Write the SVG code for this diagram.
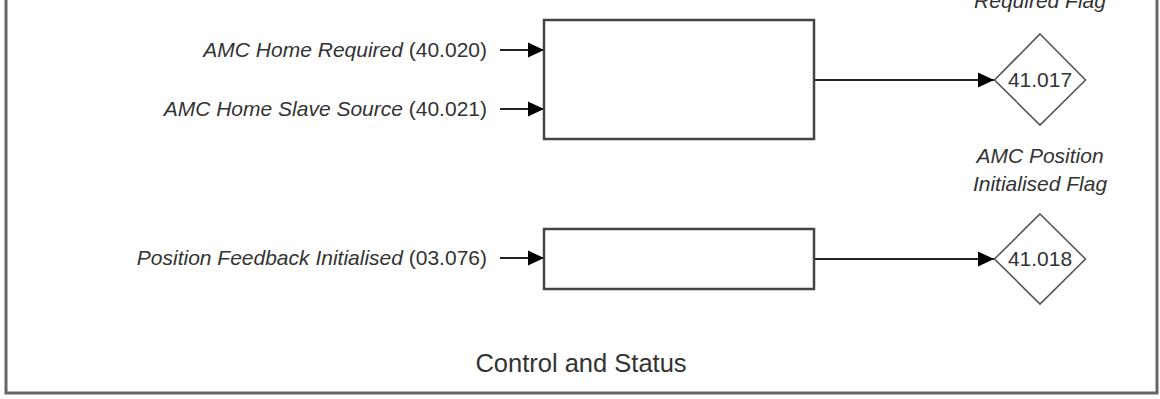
<svg xmlns="http://www.w3.org/2000/svg" width="1160" height="399" viewBox="0 0 1160 399">
<defs>
<style>
.lbl{font-family:"Liberation Sans",Arial,sans-serif;font-size:21px;fill:#333}
.it{font-style:italic}
.box{fill:#fff;stroke:#444;stroke-width:2.5}
.dia{fill:#fff;stroke:#555;stroke-width:1.6}
.wire{stroke:#222;stroke-width:2;fill:none}
</style>
<marker id="ah" markerUnits="userSpaceOnUse" markerWidth="16" markerHeight="16" refX="16" refY="8" orient="auto" viewBox="0 0 16 16">
<path d="M0,0.5 L16,8 L0,15.5 Z" fill="#000"/>
</marker>
</defs>
<rect width="1160" height="399" fill="#fff"/>
<g id="frame">
<rect x="6" y="-20" width="1151" height="413" fill="none" stroke="#666" stroke-width="3"/>
</g>
<g id="connectors">
<line class="wire" x1="500" y1="50" x2="544" y2="50" marker-end="url(#ah)"/>
<line class="wire" x1="500" y1="109" x2="544" y2="109" marker-end="url(#ah)"/>
<line class="wire" x1="814" y1="80" x2="994" y2="80" marker-end="url(#ah)"/>
<line class="wire" x1="500" y1="258" x2="544" y2="258" marker-end="url(#ah)"/>
<line class="wire" x1="814" y1="259" x2="994" y2="259" marker-end="url(#ah)"/>
</g>
<g id="in1">
<text class="lbl" x="487" y="57" text-anchor="end"><tspan class="it">AMC Home Required</tspan> (40.020)</text>
</g>
<g id="in2">
<text class="lbl" x="487" y="116" text-anchor="end"><tspan class="it">AMC Home Slave Source</tspan> (40.021)</text>
</g>
<g id="in3">
<text class="lbl" x="487" y="265" text-anchor="end"><tspan class="it">Position Feedback Initialised</tspan> (03.076)</text>
</g>
<g id="box1">
<rect class="box" x="544" y="20" width="270" height="119"/>
</g>
<g id="box2">
<rect class="box" x="544" y="229" width="270" height="60"/>
</g>
<g id="p41017">
<polygon class="dia" points="1040,34 1085.5,80 1040,125 994.5,80"/>
<text class="lbl" x="1040" y="87" text-anchor="middle">41.017</text>
</g>
<g id="p41017label">
<text class="lbl it" x="1040" y="8" text-anchor="middle">Required Flag</text>
</g>
<g id="p41018label">
<text class="lbl it" x="1040" y="163" text-anchor="middle">AMC Position</text>
<text class="lbl it" x="1040" y="191" text-anchor="middle">Initialised Flag</text>
</g>
<g id="p41018">
<polygon class="dia" points="1040,214 1085.5,259 1040,304 994.5,259"/>
<text class="lbl" x="1040" y="266" text-anchor="middle">41.018</text>
</g>
<g id="title">
<text class="lbl" x="581" y="372" text-anchor="middle" style="font-size:25.5px">Control and Status</text>
</g>
</svg>
